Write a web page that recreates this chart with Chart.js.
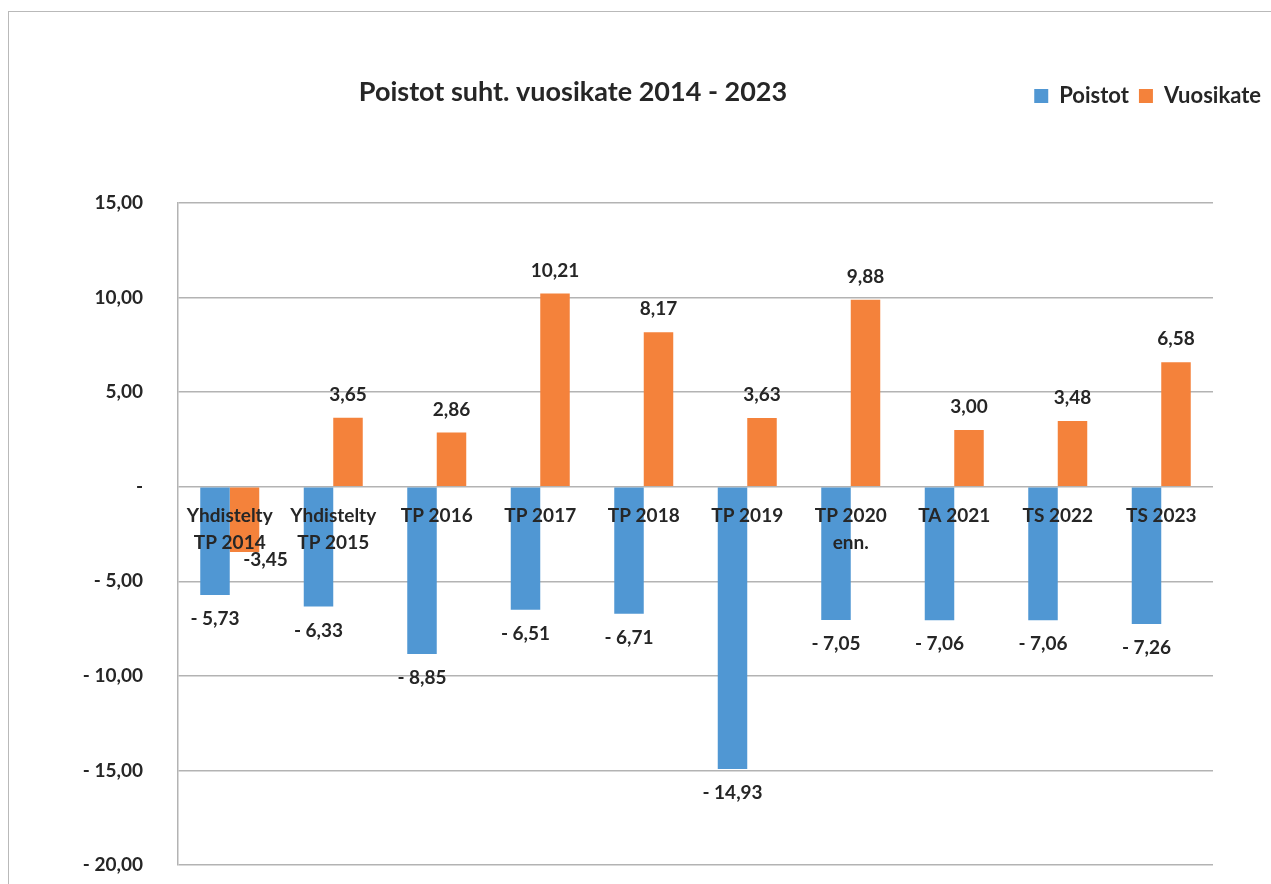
<!DOCTYPE html>
<html>
<head>
<meta charset="utf-8">
<script src="https://cdn.jsdelivr.net/npm/chart.js@4"></script>
<style>
  html, body { margin: 0; padding: 0; background: #fff; }
  #wrap { position: relative; width: 1271px; height: 884px; overflow: hidden; }
  #frame { position: absolute; left: 8px; top: 11px; right: -5px; bottom: -5px;
           border-left: 1px solid #b9b9b9; border-top: 1px solid #b9b9b9; }
  canvas { position: absolute; left: 0; top: 0; }
</style>
</head>
<body>
<div id="wrap">
  <div id="frame"></div>
  <canvas id="poistotChart" width="1271" height="884"></canvas>
</div>
<script>
// Luokat ja sarjat
const kategoriat = [
  ["Yhdistelty", "TP 2014"],
  ["Yhdistelty", "TP 2015"],
  "TP 2016",
  "TP 2017",
  "TP 2018",
  "TP 2019",
  ["TP 2020", "enn."],
  "TA 2021",
  "TS 2022",
  "TS 2023",
];
const poistot = [-5.73, -6.33, -8.85, -6.51, -6.71, -14.93, -7.05, -7.06, -7.06, -7.26];
const vuosikate = [-3.45, 3.65, 2.86, 10.21, 8.17, 3.63, 9.88, 3.0, 3.48, 6.58];
const yTicks = [15, 10, 5, 0, -5, -10, -15, -20];

const tekstiVari = "#262626";
const fontti = "Lato";

function lukuTeksti(v) {
  return Math.abs(v).toFixed(2).replace(".", ",");
}

// akselien reunatäytteet pois, ettei piirtoalue kutistu
function nollaa(s) {
  s.paddingTop = 0;
  s.paddingBottom = 0;
}

// Arvot pylväiden päihin
const arvoPlugin = {
  id: "arvot",
  afterDatasetsDraw(chart) {
    const ctx = chart.ctx;
    ctx.save();
    ctx.font = "bold 19px " + fontti;
    ctx.fillStyle = tekstiVari;
    ctx.textAlign = "center";
    ctx.textBaseline = "middle";
    chart.data.datasets.forEach((ds, di) => {
      const meta = chart.getDatasetMeta(di);
      meta.data.forEach((bar, i) => {
        const v = ds.data[i];
        let teksti = lukuTeksti(v);
        if (v < 0) teksti = (di === 0 ? "- " : "-") + teksti;
        let x = bar.x;
        let y = v >= 0 ? bar.y - 23 : bar.y + 24;
        // Excel siirsi tämän yhden tunnuksen sivuun
        if (di === 1 && v < 0) { x += 21; y -= 16; }
        ctx.fillText(teksti, x, y);
      });
    });
    ctx.restore();
  },
};

// Otsikko samalle riville selitteen kanssa
const otsikkoPlugin = {
  id: "otsikko",
  afterDraw(chart) {
    const ctx = chart.ctx;
    ctx.save();
    ctx.font = "bold 27px " + fontti;
    ctx.fillStyle = tekstiVari;
    ctx.textAlign = "center";
    ctx.textBaseline = "middle";
    ctx.fillText("Poistot suht. vuosikate 2014 - 2023", 573, 92);
    ctx.restore();
  },
};

const ctx = document.getElementById("poistotChart").getContext("2d");

new Chart(ctx, {
  type: "bar",
  data: {
    labels: kategoriat,
    datasets: [
      { label: "Poistot", data: poistot, backgroundColor: "#5097d3", borderWidth: 0 },
      { label: "Vuosikate", data: vuosikate, backgroundColor: "#f4823b", borderWidth: 0 },
    ],
  },
  options: {
    responsive: false,
    animation: false,
    devicePixelRatio: 1,
    categoryPercentage: 0.57,
    barPercentage: 1,
    layout: { padding: { top: 75, left: 0, right: 0, bottom: 19 } },
    plugins: {
      tooltip: { enabled: false },
      title: { display: false },
      legend: {
        position: "top",
        align: "end",
        labels: {
          boxWidth: 14,
          boxHeight: 14,
          padding: 10,
          color: tekstiVari,
          font: { family: fontti, size: 22, weight: "bold" },
        },
      },
    },
    scales: {
      x: {
        position: { y: 0 },
        grid: { display: false },
        border: { display: false },
        afterFit: nollaa,
        ticks: {
          z: 1,
          autoSkip: false,
          maxRotation: 0,
          minRotation: 0,
          padding: 8,
          color: tekstiVari,
          font: { family: fontti, size: 19, weight: "bold", lineHeight: 1.42 },
        },
      },
      vali: {
        type: "linear",
        axis: "x",
        position: "top",
        grid: { display: false },
        border: { display: false },
        ticks: { display: false },
        afterFit(s) { nollaa(s); s.height = 86; },
      },
      y: {
        min: -20,
        max: 15,
        position: "left",
        afterBuildTicks(s) { s.ticks = yTicks.map((v) => ({ value: v })); },
        afterFit(s) { nollaa(s); s.width = 178; },
        grid: { color: "#b3b3b3", lineWidth: 1.5, drawTicks: false },
        border: { display: true, color: "#b3b3b3", width: 1.5 },
        ticks: {
          padding: 35,
          color: tekstiVari,
          font: { family: fontti, size: 19, weight: "bold" },
          callback(v) {
            if (v === 0) return "-";
            return (v < 0 ? "- " : "") + lukuTeksti(v);
          },
        },
      },
      oikea: {
        type: "linear",
        position: "right",
        grid: { display: false },
        border: { display: false },
        ticks: { display: false },
        afterFit(s) { nollaa(s); s.width = 58; },
      },
    },
  },
  plugins: [arvoPlugin, otsikkoPlugin],
});
</script>
</body>
</html>
